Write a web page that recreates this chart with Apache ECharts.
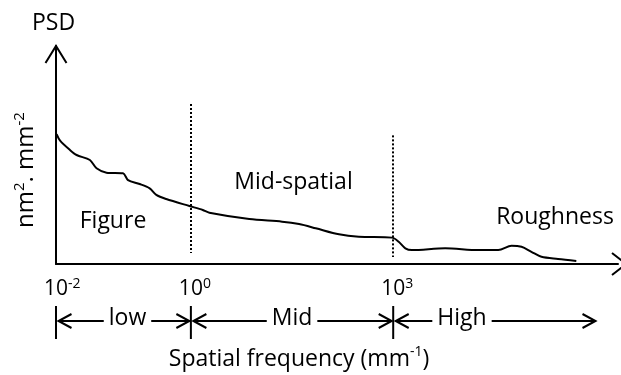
<!DOCTYPE html>
<html><head><meta charset="utf-8">
<script src="https://cdn.jsdelivr.net/npm/echarts@6/dist/echarts.min.js"></script>
<style>html,body{margin:0;padding:0;background:#fff}#c{width:621px;height:375px}</style>
</head><body><div id="c"></div>
<script>
// ---- data ----
const freq = [0.0102, 0.0115, 0.0161, 0.0202, 0.0318, 0.0399, 0.0561, 0.0986, 0.117, 0.174, 0.245, 0.307, 0.431, 0.95, 1.5, 1.88, 7.35, 22.5, 40.2, 71, 157, 309, 960, 1205, 1513, 1897, 5900, 18300, 36200, 56900, 80000, 112000, 158000, 278000, 519000];
const psd  = [59.6, 56.6, 52.3, 50.0, 47.7, 43.9, 41.9, 41.6, 38.5, 36.7, 34.7, 31.7, 29.8, 26.6, 24.8, 23.5, 20.6, 19.4, 18.3, 16.4, 13.6, 12.5, 12.1, 10.2, 7.2, 6.4, 7.2, 6.4, 6.4, 8.4, 7.9, 5.6, 3.3, 2.3, 1.4];
const tickExponents = [-2, 0, 3];
const dividerFreqs = [1, 1000];
const dividerSpans = [[73.4, 5], [59, 3.2]];
const bandEdges = [0.01, 1, 1000, 1e6];
const bandNames = ['low', 'Mid', 'High'];
const bandTextPos = [0.53, 0.5, 0.34];
const regionNames = ['Figure', 'Mid-spatial', 'Roughness'];

const FONT = '"Open Sans", sans-serif';
const chart = echarts.init(document.getElementById('c'));
const xMax = Math.pow(10, 565 / 67.8 - 2);

chart.setOption({
  animation: false,
  backgroundColor: '#fff',
  grid: { left: 56, right: 0, top: 46, bottom: 111, containLabel: false },
  xAxis: {
    type: 'log', logBase: 10, min: 0.01, max: xMax,
    axisLine: { show: true, lineStyle: { color: '#000', width: 2 } },
    axisTick: { show: false },
    splitLine: { show: false },
    axisLabel: {
      margin: 13,
      fontSize: 21,
      fontFamily: FONT,
      color: '#000',
      formatter: function (v) {
        const l = Math.log10(v), e = Math.round(l);
        if (Math.abs(l - e) > 1e-6 || tickExponents.indexOf(e) < 0) return '';
        return '{h|' + e + '}{b|10}{s|' + e + '}';
      },
      rich: {
        h: { fontSize: 14, lineHeight: 14, verticalAlign: 'top', color: 'rgba(0,0,0,0)', fontFamily: FONT },
        b: { fontSize: 21, lineHeight: 24, color: '#000', fontFamily: FONT },
        s: { fontSize: 14, lineHeight: 14, verticalAlign: 'top', color: '#000', fontFamily: FONT }
      }
    }
  },
  yAxis: {
    type: 'value', min: 0, max: 100,
    axisLine: { show: true, lineStyle: { color: '#000', width: 2 } },
    axisTick: { show: false }, axisLabel: { show: false }, splitLine: { show: false }
  },
  series: [{
    type: 'line',
    data: freq.map((f, i) => [f, psd[i]]),
    smooth: 0.3,
    showSymbol: false,
    lineStyle: { color: '#000', width: 2 },
    markLine: {
      silent: true, symbol: 'none', label: { show: false },
      lineStyle: { color: '#000', width: 2, type: [2, 2] },
      data: dividerFreqs.map((f, i) => [{ coord: [f, dividerSpans[i][0]] }, { coord: [f, dividerSpans[i][1]] }])
    }
  }]
});

function px(f) { return chart.convertToPixel({ gridIndex: 0 }, [f, 0])[0]; }
const x0 = px(0.01), yTop = chart.convertToPixel({ gridIndex: 0 }, [0.01, 100])[1];
const yBase = chart.convertToPixel({ gridIndex: 0 }, [0.01, 0])[1];
const ink = { stroke: '#000', lineWidth: 2, fill: null };
const g = [];
// axis arrows
g.push({ type: 'polyline', shape: { points: [[x0 - 10.5, yTop + 17], [x0, yTop], [x0 + 10.5, yTop + 17]] }, style: ink });
g.push({ type: 'polyline', shape: { points: [[612, yBase - 11], [626, yBase], [612, yBase + 11]] }, style: ink });
// texts
function txt(x, y, text, size, extra) {
  return Object.assign({ type: 'text', x: x, y: y, style: { text: text, font: size + 'px ' + FONT, fill: '#000', align: 'center', verticalAlign: 'middle' } }, extra || {});
}
g.push(txt(53.5, 23, 'PSD', 23));
g.push(txt(113, 221, regionNames[0], 23));
g.push(txt(293.5, 182, regionNames[1], 23));
g.push(txt(555, 217, regionNames[2], 23));
g.push({ type: 'text', x: 26, y: 170, rotation: Math.PI / 2, style: {
  text: '{b|nm}{s|2}{b|. mm}{s|-2}', align: 'center', verticalAlign: 'middle',
  rich: { b: { fontSize: 24, lineHeight: 28, fontFamily: FONT, fill: '#000' }, s: { fontSize: 15, lineHeight: 15, verticalAlign: 'top', fontFamily: FONT, fill: '#000' } } } });
g.push({ type: 'text', x: 299, y: 359, style: {
  text: '{b|Spatial frequency (mm}{s|-1}{b|)}', align: 'center', verticalAlign: 'middle',
  rich: { b: { fontSize: 23, lineHeight: 28, fontFamily: FONT, fill: '#000' }, s: { fontSize: 14, lineHeight: 14, verticalAlign: 'top', fontFamily: FONT, fill: '#000' } } } });
// band annotation
const rowY = 321;
for (let i = 0; i < 3; i++) {
  const bx = px(bandEdges[i]);
  g.push({ type: 'line', shape: { x1: bx, y1: 306, x2: bx, y2: 339 }, style: { stroke: '#000', lineWidth: 2 } });
}
for (let i = 0; i < 3; i++) {
  const a = px(bandEdges[i]) + 2.5, b = px(bandEdges[i + 1]) - (i === 2 ? 0 : 1.5);
  g.push({ type: 'line', shape: { x1: a, y1: rowY, x2: b, y2: rowY }, style: { stroke: '#000', lineWidth: 2 } });
  g.push({ type: 'polyline', shape: { points: [[a + 13, rowY - 7], [a, rowY], [a + 13, rowY + 7]] }, style: ink });
  g.push({ type: 'polyline', shape: { points: [[b - 13, rowY - 7], [b, rowY], [b - 13, rowY + 7]] }, style: ink });
  const cx = px(bandEdges[i]) + (px(bandEdges[i + 1]) - px(bandEdges[i])) * bandTextPos[i];
  g.push({ type: 'text', x: cx, y: 318, z: 10, style: { text: bandNames[i], font: '23px ' + FONT, fill: '#000', align: 'center', verticalAlign: 'middle', backgroundColor: '#fff', padding: [0, 5] } });
}
chart.setOption({ graphic: g });
</script>
</body></html>
